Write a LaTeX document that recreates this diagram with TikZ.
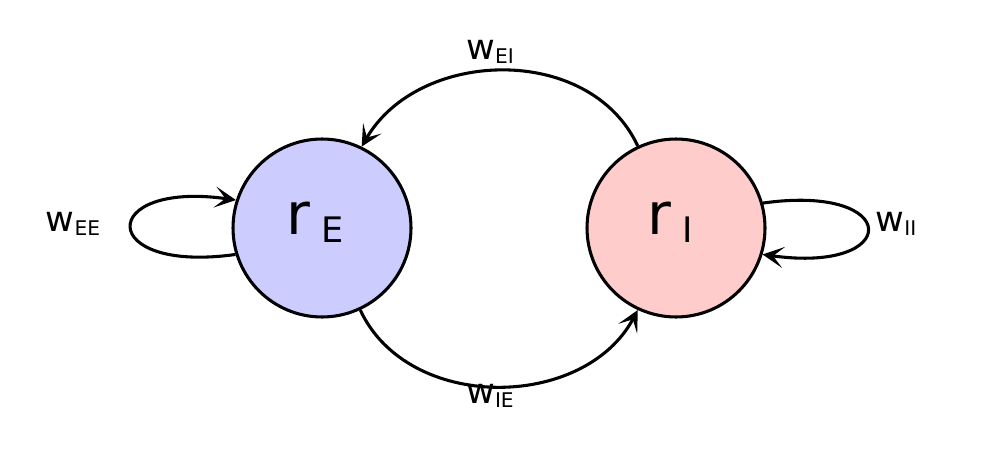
\documentclass[tikz,border=0pt]{standalone}
\usepackage{fontspec}
\setmainfont{DejaVu Sans}
\usetikzlibrary{arrows.meta}

\definecolor{popE}{RGB}{204,204,255}
\definecolor{popI}{RGB}{255,204,204}

% rate and weight labels
\newcommand{\rlab}[1]{{\fontsize{33}{33}\selectfont r}\hspace{6pt}\raisebox{-4.5pt}{\fontsize{20}{20}\selectfont #1}}
\newcommand{\wlab}[1]{{\fontsize{20}{20}\selectfont w}\raisebox{-2.3pt}{\fontsize{11.5}{11.5}\selectfont #1}}

\begin{document}
\begin{tikzpicture}[x=0.02cm, y=-0.02cm, line width=1.75pt,
    pop/.style={circle, draw, minimum size=3.56cm, inner sep=0pt},
    link/.style={-{Stealth[length=12pt, width=12pt, inset=6pt]}}]
    \useasboundingbox (0,0) rectangle (982,456);
    \node[pop, fill=popE] (E) at (322,228) {};
    \node[pop, fill=popI] (I) at (676,228) {};
    \node (rE) at (315,222) {\rlab{E}};
    \node (rI) at (670,222) {\rlab{I}};
    % connections
    \draw[link] (E.197) to[out=188, in=172, looseness=6.6] (E.162);
    \draw[link] (I.16) to[out=8, in=-8, looseness=7] (I.-17);
    \draw[link] (I.115) to[out=115, in=60, looseness=1.05] (E.64);
    \draw[link] (E.-65) to[out=-65, in=-118, looseness=1.05] (I.-115);
    % weights
    \node (wEE) at (73,224) {\wlab{EE}};
    \node (wII) at (896,224) {\wlab{II}};
    \node (wEI) at (490,52) {\wlab{EI}};
    \node (wIE) at (490,396) {\wlab{IE}};
\end{tikzpicture}
\end{document}
